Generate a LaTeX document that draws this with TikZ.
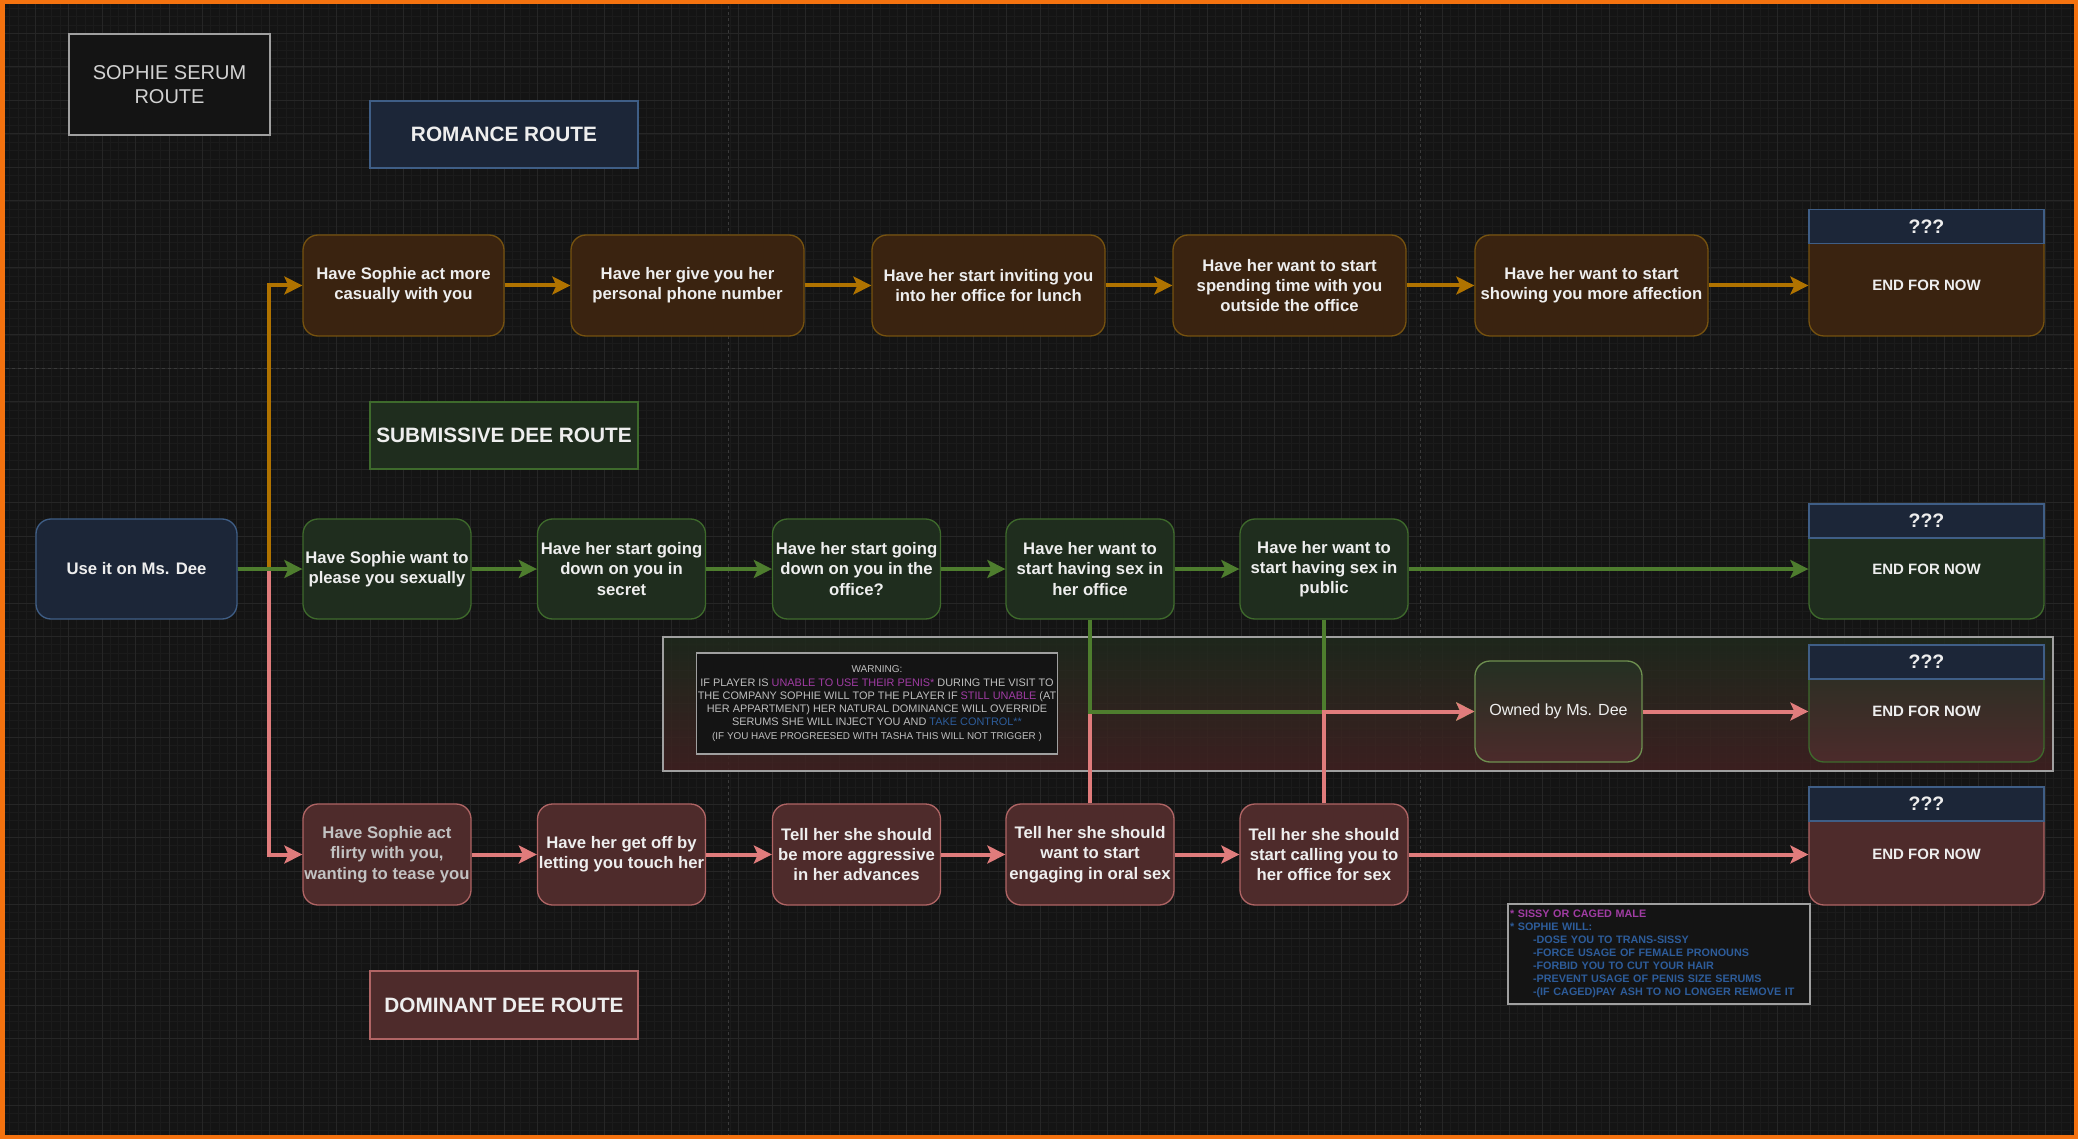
\documentclass[tikz,border=0pt]{standalone}
\usepackage{fontspec}
\setmainfont{Liberation Sans}
\usetikzlibrary{arrows.meta}
\definecolor{bg}{HTML}{141414}
\definecolor{gridminor}{HTML}{1B1B1B}
\definecolor{gridmajor}{HTML}{262626}
\definecolor{pagebreak}{HTML}{3A3A3A}
\definecolor{framecol}{HTML}{F4720F}
\definecolor{txt}{HTML}{EEEEEE}
\definecolor{txtgray}{HTML}{C2C2C2}
\definecolor{titletxt}{HTML}{D2D2D2}
\definecolor{romfill}{HTML}{3A2310}
\definecolor{romline}{HTML}{76520F}
\definecolor{romarrow}{HTML}{B07300}
\definecolor{subfill}{HTML}{1F2D1E}
\definecolor{subline}{HTML}{3E6A2C}
\definecolor{subarrow}{HTML}{4E7D2E}
\definecolor{domfill}{HTML}{4E2B2B}
\definecolor{domline}{HTML}{B06565}
\definecolor{domarrow}{HTML}{E07C7C}
\definecolor{navyfill}{HTML}{1C2638}
\definecolor{navyline}{HTML}{3F5E86}
\definecolor{boxline}{HTML}{A0A0A0}
\definecolor{warntxt}{HTML}{BEBEBE}
\definecolor{purp}{HTML}{A03CA3}
\definecolor{blu}{HTML}{2D5C9A}
\definecolor{ownline}{HTML}{6E9050}
\definecolor{mixtop}{HTML}{243022}
\definecolor{mixbot}{HTML}{4C2B2B}
\definecolor{areatop}{HTML}{1F2A1D}
\definecolor{areabot}{HTML}{422222}
\tikzset{
  nodefont/.style={font=\fontsize{16.7pt}{20.3pt}\selectfont\bfseries},
  flow/.style={draw, rounded corners=15pt, line width=1.3pt, align=center, text=txt, nodefont, inner sep=1pt},
  romnode/.style={flow, fill=romfill, draw=romline, minimum width=233pt, minimum height=101pt},
  subnode/.style={flow, fill=subfill, draw=subline, minimum width=168pt, minimum height=100pt},
  domnode/.style={flow, fill=domfill, draw=domline, minimum width=168pt, minimum height=101pt},
  navynode/.style={flow, fill=navyfill, draw=navyline},
  routelabel/.style={draw, line width=1.3pt, text=txt, font=\fontsize{20.8pt}{24pt}\selectfont\bfseries, minimum width=268pt, minimum height=67pt},
  endbody/.style={draw, rounded corners=15pt, line width=1.3pt, minimum width=235pt, inner sep=0pt},
  endhead/.style={draw=navyline, fill=navyfill, line width=1.3pt, minimum width=235pt, minimum height=34pt, inner sep=0pt, text=txt, font=\fontsize{19.5pt}{24pt}\selectfont\bfseries},
  endtext/.style={text=txt, font=\fontsize{15pt}{18pt}\selectfont\bfseries, inner sep=0pt},
  wire/.style={line width=4pt},
  tipstyle/.style={-{Stealth[length=18pt,width=18pt,inset=4pt]}},
  romwire/.style={wire, draw=romarrow, tipstyle},
  subwire/.style={wire, draw=subarrow, tipstyle},
  domwire/.style={wire, draw=domarrow, tipstyle},
}
\begin{document}
\begin{tikzpicture}[x=1pt, y=-1pt]
\useasboundingbox (0,0) rectangle (2078,1139);
% background and grid
\fill[bg] (0,0) rectangle (2078,1139);
\foreach \k in {0,...,248} {\draw[gridminor, line width=0.8pt] ({1.5+\k*8.375},0) -- ({1.5+\k*8.375},1139);}
\foreach \k in {0,...,136} {\draw[gridminor, line width=0.8pt] (0,{\k*8.375}) -- (2078,{\k*8.375});}
\foreach \k in {0,...,62} {\draw[gridmajor, line width=1pt] ({1.5+\k*33.5},0) -- ({1.5+\k*33.5},1139);}
\foreach \k in {0,...,34} {\draw[gridmajor, line width=1pt] (0,{\k*33.5}) -- (2078,{\k*33.5});}
% page breaks
\draw[pagebreak, line width=1pt, dash pattern=on 3pt off 3pt] (728,0) -- (728,1139);
\draw[pagebreak, line width=1pt, dash pattern=on 3pt off 3pt] (1420,0) -- (1420,1139);
\draw[pagebreak, line width=1pt, dash pattern=on 3pt off 3pt] (0,369) -- (2078,369);

% warning area
\node[draw=boxline, line width=1.3pt, top color=areatop, bottom color=areabot, fill opacity=0.85, minimum width=1390pt, minimum height=134pt, inner sep=0pt] (warnarea) at (1358,704) {};
\node[draw=boxline, fill=bg, line width=1.3pt, minimum width=360pt, minimum height=101pt, inner sep=1pt, align=center, text=warntxt, font=\fontsize{10.9pt}{13.3pt}\selectfont] (warn) at (877,703.5)
{{\fontsize{10pt}{13.3pt}\selectfont WARNING:}\\
IF PLAYER IS \textcolor{purp}{UNABLE TO USE THEIR PENIS*} DURING THE VISIT TO\\
THE COMPANY SOPHIE WILL TOP THE PLAYER IF \textcolor{purp}{STILL UNABLE} (AT\\
HER APPARTMENT) HER NATURAL DOMINANCE WILL OVERRIDE\\
SERUMS SHE WILL INJECT YOU AND \textcolor{blu}{TAKE CONTROL**}\\
{\fontsize{9.9pt}{13.3pt}\selectfont (IF YOU HAVE PROGREESED WITH TASHA THIS WILL NOT TRIGGER )}};

% note
\node[draw=boxline, fill=bg, line width=1.3pt, minimum width=302pt, minimum height=100pt, text width=298pt, inner sep=2pt, align=left, text=blu, font=\fontsize{10.8pt}{13pt}\selectfont\bfseries] (note) at (1659,954)
{\textcolor{purp}{* SISSY OR CAGED MALE}\\
** SOPHIE WILL:\\
\hspace*{23pt}-DOSE YOU TO TRANS-SISSY\\
\hspace*{23pt}-FORCE USAGE OF FEMALE PRONOUNS\\
\hspace*{23pt}-FORBID YOU TO CUT YOUR HAIR\\
\hspace*{23pt}-PREVENT USAGE OF PENIS SIZE SERUMS\\
\hspace*{23pt}-(IF CAGED)PAY ASH TO NO LONGER REMOVE IT};

% titles
\node[draw=boxline, fill=bg, line width=1.3pt, minimum width=201pt, minimum height=101pt, align=center, text=titletxt, font=\fontsize{20pt}{24pt}\selectfont] (title) at (169.5,84.5) {SOPHIE SERUM\\ROUTE};
\node[routelabel, fill=navyfill, draw=navyline] (romlabel) at (504,134.5) {ROMANCE ROUTE};
\node[routelabel, fill=subfill, draw=subline] (sublabel) at (504,435.5) {SUBMISSIVE DEE ROUTE};
\node[routelabel, fill=domfill, draw=domline, minimum height=68pt] (domlabel) at (504,1005) {DOMINANT DEE ROUTE};

% start
\node[navynode, minimum width=201pt, minimum height=100pt] (start) at (136.5,569) {Use it on Ms. Dee};

% romance row
\node[romnode, minimum width=201pt] (R1) at (403.5,285.5) {Have Sophie act more\\casually with you};
\node[romnode] (R2) at (687.5,285.5) {Have her give you her\\personal phone number};
\node[romnode] (R3) at (988.5,285.5) {Have her start inviting you\\into her office for lunch};
\node[romnode] (R4) at (1289.5,285.5) {Have her want to start\\spending time with you\\outside the office};
\node[romnode] (R5) at (1591.5,285.5) {Have her want to start\\showing you more affection};

% submissive row
\node[subnode] (S1) at (387,569) {Have Sophie want to\\please you sexually};
\node[subnode] (S2) at (621.5,569) {Have her start going\\down on you in\\secret};
\node[subnode] (S3) at (856.5,569) {Have her start going\\down on you in the\\office?};
\node[subnode] (S4) at (1090,569) {Have her want to\\start having sex in\\her office};
\node[subnode] (S5) at (1324,569) {Have her want to\\start having sex in\\public};

% dominant row
\node[domnode, text=txtgray] (D1) at (387,854.5) {Have Sophie act\\flirty with you,\\wanting to tease you};
\node[domnode] (D2) at (621.5,854.5) {Have her get off by\\letting you touch her};
\node[domnode] (D3) at (856.5,854.5) {Tell her she should\\be more aggressive\\in her advances};
\node[domnode] (D4) at (1090,854.5) {Tell her she should\\want to start\\engaging in oral sex};
\node[domnode] (D5) at (1324,854.5) {Tell her she should\\start calling you to\\her office for sex};

% owned
\node[flow, draw=ownline, top color=mixtop, bottom color=mixbot, minimum width=167pt, minimum height=101pt, font=\fontsize{16.1pt}{19pt}\selectfont] (owned) at (1558.5,711.5) {Owned by Ms. Dee};

% end nodes
\node[endbody, fill=romfill, draw=romline, minimum height=126pt] (E1) at (1926.5,273) {};
\node[endhead] (E1h) at (1926.5,226.5) {???};
\node[endtext] (E1t) at (1926.5,285.5) {END FOR NOW};

\node[endbody, fill=subfill, draw=subline, minimum height=115pt] (E2) at (1926.5,561.5) {};
\node[endhead] (E2h) at (1926.5,521) {???};
\node[endtext] (E2t) at (1926.5,569) {END FOR NOW};

\node[endbody, top color=mixtop, bottom color=mixbot, draw=subline, minimum height=117pt] (E3) at (1926.5,703.5) {};
\node[endhead] (E3h) at (1926.5,662) {???};
\node[endtext] (E3t) at (1926.5,711.5) {END FOR NOW};

\node[endbody, fill=domfill, draw=domline, minimum height=118pt] (E4) at (1926.5,846) {};
\node[endhead] (E4h) at (1926.5,804) {???};
\node[endtext] (E4t) at (1926.5,854.5) {END FOR NOW};

% connectors
\coordinate (split) at (269,569);
\draw[romwire] (start.east) -- (split) |- (R1.west);
\draw[domwire] (start.east) -- (split) |- (D1.west);
\draw[subwire] (start.east) -- (S1.west);

\draw[romwire] (R1.east) -- (R2.west);
\draw[romwire] (R2.east) -- (R3.west);
\draw[romwire] (R3.east) -- (R4.west);
\draw[romwire] (R4.east) -- (R5.west);
\draw[romwire] (R5.east) -- (R5.east -| E1.west);

\draw[subwire] (S1.east) -- (S2.west);
\draw[subwire] (S2.east) -- (S3.west);
\draw[subwire] (S3.east) -- (S4.west);
\draw[subwire] (S4.east) -- (S5.west);
\draw[subwire] (S5.east) -- (S5.east -| E2.west);

\draw[domwire] (D1.east) -- (D2.west);
\draw[domwire] (D2.east) -- (D3.west);
\draw[domwire] (D3.east) -- (D4.west);
\draw[domwire] (D4.east) -- (D5.west);
\draw[domwire] (D5.east) -- (D5.east -| E4.west);

\draw[domwire] (D4.north) |- (owned.west);
\draw[subwire] (S4.south) |- (owned.west);
\draw[subwire] (S5.south) |- (owned.west);
\draw[domwire] (D5.north) |- (owned.west);
\draw[domwire] (owned.east) -- (owned.east -| E3.west);

% frame
\draw[framecol, line width=4.5pt] (2.25,2.25) rectangle (2075.75,1136.75);
\end{tikzpicture}
\end{document}
